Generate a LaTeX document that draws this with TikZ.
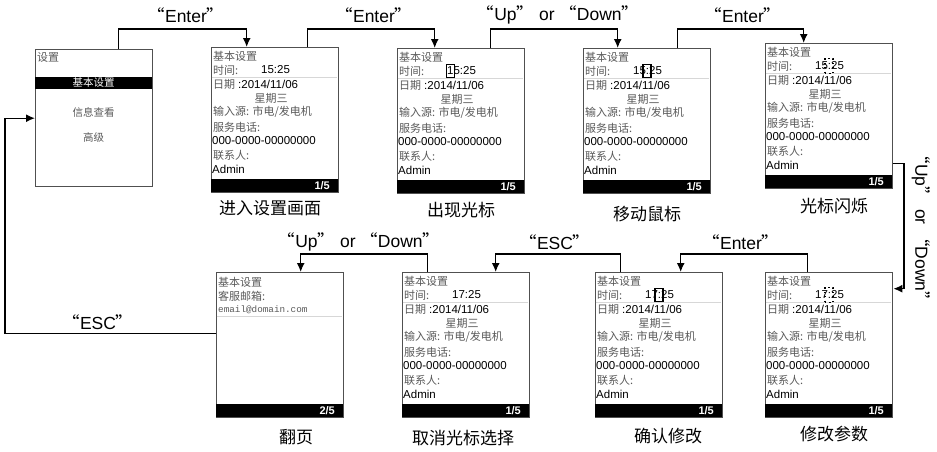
\documentclass[tikz,border=0pt]{standalone}
\usepackage{fontspec}
\setmainfont{Liberation Sans}
\setmonofont{Liberation Mono}
\newfontfamily\cjk{Noto Sans CJK SC}
\usetikzlibrary{arrows.meta}
\definecolor{scrborder}{RGB}{80,80,80}
\definecolor{cngray}{RGB}{90,90,90}
\definecolor{sepgray}{RGB}{215,215,215}
\newcommand\qq[1]{{\cjk “}#1{\cjk ”}}
\tikzset{
  screen/.style={draw=scrborder, line width=1.4pt, fill=white, minimum width=127pt, minimum height=145pt, inner sep=0pt, anchor=north west},
  menuscreen/.style={screen, minimum width=117pt, minimum height=137pt},
  cn/.style={font=\cjk\fontsize{11}{12}\selectfont, text=cngray, inner sep=0pt, anchor=west},
  cnc/.style={cn, anchor=center},
  num/.style={font=\fontsize{11.5}{12}\selectfont, text=black, inner sep=0pt, anchor=west},
  mono/.style={font=\ttfamily\fontsize{9.3}{10}\selectfont, text=cngray, inner sep=0pt, anchor=west},
  barbox/.style={fill=black, inner sep=0pt, anchor=south west, minimum width=127pt, minimum height=13pt},
  pgnum/.style={font=\bfseries\fontsize{11}{12}\selectfont, text=white, inner sep=0pt, anchor=east},
  sepline/.style={draw=sepgray, line width=0.6pt},
  cursolid/.style={draw=black, line width=1.4pt, minimum width=8pt, minimum height=13pt, inner sep=0pt},
  curdot/.style={draw=black, line width=1.5pt, dash pattern=on 1.2pt off 3.2pt, minimum width=8pt, minimum height=15pt, inner sep=0pt},
  arr/.style={draw=black, line width=1.4pt, -{Latex[length=9pt,width=8pt]}},
  lbl/.style={font=\fontsize{17.5}{19}\selectfont, inner sep=0pt},
  caption/.style={font=\cjk\fontsize{17}{19}\selectfont, inner sep=0pt},
}
% #1 name, #2 L, #3 T, #4 time, #5 extra
\newcommand\infoscreen[5]{%
\begin{scope}[shift={(#2,#3)}]
  \node[screen] (#1) at (0,0) {};
  \draw[sepline] (0.7,30) -- (126.3,30);
  \node[barbox] (#1-bar) at (0,145) {};
  \node[pgnum] (#1-pg) at (119,138.5) {1/5};
  \node[cn] (#1-l1) at (2,9) {基本设置};
  \node[cn] (#1-l2) at (2,23) {时间:};
  \node[num] (#1-tm) at (50,23) {#4};
  \node[cn] (#1-l3) at (2,37) {日期\hspace{3pt}{\rmfamily\color{black}\fontsize{11.5}{12}\selectfont :2014/11/06}};
  \node[cnc] (#1-l4) at (60,51) {星期三};
  \node[cn] (#1-l5) at (2,65) {输入源: 市电/发电机};
  \node[cn] (#1-l6) at (2,80) {服务电话:};
  \node[num] (#1-l7) at (1,94) {000-0000-00000000};
  \node[cn] (#1-l8) at (2,108) {联系人:};
  \node[num] (#1-l9) at (1,122) {Admin};
  #5
\end{scope}}

\begin{document}
\begin{tikzpicture}[x=1pt,y=-1pt]
\useasboundingbox[fill=white] (0,0) rectangle (937,451);

% ---------- menu screen ----------
\begin{scope}[shift={(35,49)}]
  \node[menuscreen] (s0) at (0,0) {};
  \node[cn] (s0-t) at (2,8) {设置};
  \node[fill=black, inner sep=0pt, minimum width=117pt, minimum height=12pt] (s0-bar) at (58.5,34) {};
  \node[cnc, text=white, font=\cjk\fontsize{10.5}{12}\selectfont] (s0-a) at (58.5,34) {基本设置};
  \node[cnc, font=\cjk\fontsize{10.5}{12}\selectfont] (s0-b) at (58.5,63) {信息查看};
  \node[cnc, font=\cjk\fontsize{10.5}{12}\selectfont] (s0-c) at (58.5,88) {高级};
\end{scope}

% ---------- top row ----------
\infoscreen{s1}{211}{47}{15:25}{}
\infoscreen{s2}{397}{48}{15:25}{\node[cursolid] (s2-cur) at (53.2,23) {};}
\infoscreen{s3}{583}{48}{15:25}{\node[cursolid] (s3-cur) at (64,23) {};}
\infoscreen{s4}{765}{43}{15:25}{\node[curdot] (s4-cur) at (64,23) {};}

% ---------- bottom row ----------
\begin{scope}[shift={(216,272)}]
  \node[screen] (s5) at (0,0) {};
  \node[barbox] (s5-bar) at (0,145) {};
  \node[pgnum] (s5-pg) at (119,138.5) {2/5};
  \node[cn] (s5-l1) at (2,10) {基本设置};
  \node[cn] (s5-l2) at (2,24) {客服邮箱:};
  \node[mono] (s5-l3) at (2,38) {email@domain.com};
  \draw[sepline] (0.7,44) -- (126.3,44);
\end{scope}
\infoscreen{s6}{402}{272}{17:25}{}
\infoscreen{s7}{595}{272}{17:25}{\node[cursolid] (s7-cur) at (64,23) {};}
\infoscreen{s8}{765}{272}{17:25}{\node[curdot] (s8-cur) at (64,23) {};}

% ---------- captions ----------
\node[caption] (c1) at (270,208) {进入设置画面};
\node[caption] (c2) at (461,210) {出现光标};
\node[caption] (c3) at (647,214) {移动鼠标};
\node[caption] (c4) at (834,206) {光标闪烁};
\node[caption] (c5) at (296,437) {翻页};
\node[caption] (c6) at (463,438) {取消光标选择};
\node[caption] (c7) at (668,436) {确认修改};
\node[caption] (c8) at (834,434) {修改参数};

% ---------- connector points ----------
\coordinate (topy) at (0,29);
\coordinate (boty) at (0,254);
\coordinate (rx) at (904,0);
\coordinate (lx) at (5,0);
\coordinate (s0out) at ([xshift=24.5pt]s0.north);
\coordinate (s1in) at ([xshift=-28.5pt]s1.north);
\coordinate (s1out) at ([xshift=32.5pt]s1.north);
\coordinate (s2in) at ([xshift=-26.5pt]s2.north);
\coordinate (s2out) at ([xshift=29.5pt]s2.north);
\coordinate (s3in) at ([xshift=-29.5pt]s3.north);
\coordinate (s3out) at ([xshift=30.5pt]s3.north);
\coordinate (s4in) at ([xshift=-25.5pt]s4.north);
\coordinate (s4out) at ([yshift=-47.5pt]s4.east);
\coordinate (s8in) at ([yshift=56.5pt]s8.east);
\coordinate (s8out) at ([xshift=-21.5pt]s8.north);
\coordinate (s7in) at ([xshift=21.5pt]s7.north);
\coordinate (s7out) at ([xshift=-38.5pt]s7.north);
\coordinate (s6in) at ([xshift=29.5pt]s6.north);
\coordinate (s6out) at ([xshift=-38.5pt]s6.north);
\coordinate (s5in) at ([xshift=20.5pt]s5.north);
\coordinate (s5out) at ([yshift=11.5pt]s5.west);
\coordinate (s0in) at (s0.west);

% ---------- connectors ----------
\draw[arr] (s0out) -- (s0out |- topy) -| (s1in);
\draw[arr] (s1out) -- (s1out |- topy) -| (s2in);
\draw[arr] (s2out) -- (s2out |- topy) -| (s3in);
\draw[arr] (s3out) -- (s3out |- topy) -| (s4in);
\draw[arr] (s4out) -- (s4out -| rx) |- (s8in);
\draw[arr] (s8out) -- (s8out |- boty) -| (s7in);
\draw[arr] (s7out) -- (s7out |- boty) -| (s6in);
\draw[arr] (s6out) -- (s6out |- boty) -| (s5in);
\draw[arr] (s5out) -- (s5out -| lx) |- (s0in);

% ---------- labels ----------
\node[lbl] (k1) at (186,15) {\qq{Enter}};
\node[lbl] (k2) at (374,15) {\qq{Enter}};
\node[lbl] (k3) at (558,15) {\qq{Up} or \qq{Down}};
\node[lbl] (k4) at (743,15) {\qq{Enter}};
\node[lbl, rotate=-90] (k5) at (921,228) {\qq{Up} or \qq{Down}};
\node[lbl] (k6) at (741,242) {\qq{Enter}};
\node[lbl] (k7) at (555,242) {\qq{ESC}};
\node[lbl] (k8) at (359,242) {\qq{Up} or \qq{Down}};
\node[lbl] (k9) at (98,322) {\qq{ESC}};
\end{tikzpicture}
\end{document}
